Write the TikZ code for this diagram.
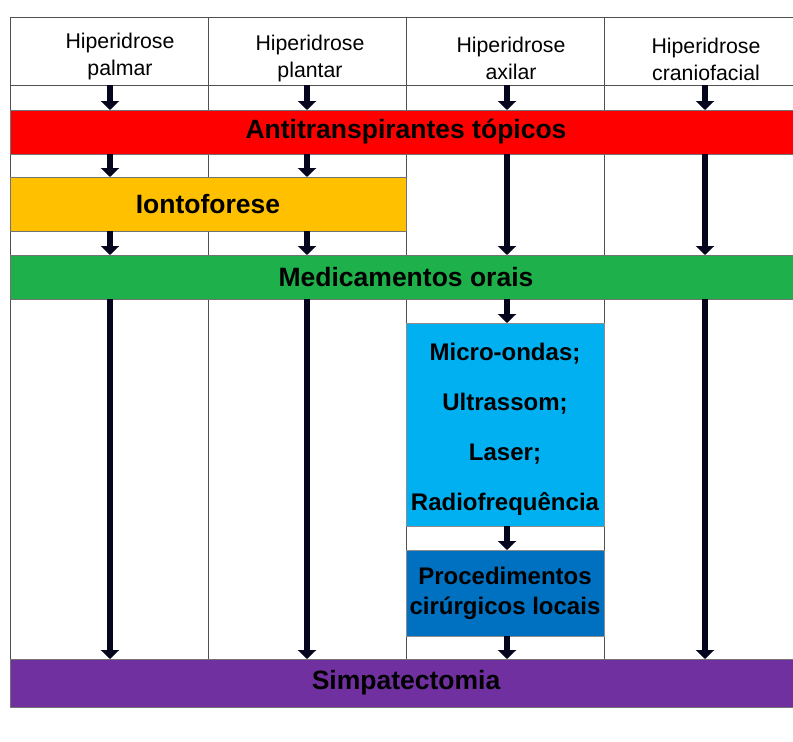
\documentclass[tikz,border=0pt]{standalone}
\usepackage{fontspec}
\setmainfont{Liberation Sans}
\usetikzlibrary{arrows.meta}
\definecolor{cred}{HTML}{FF0000}
\definecolor{corange}{HTML}{FFC000}
\definecolor{cgreen}{HTML}{1EB04A}
\definecolor{ccyan}{HTML}{00B0F0}
\definecolor{cblue}{HTML}{0070C0}
\definecolor{cpurple}{HTML}{7030A0}
\definecolor{cgrid}{HTML}{505050}
\definecolor{carrow}{HTML}{05051E}
\tikzset{
  gridline/.style={draw=cgrid, line width=1pt},
  hdr/.style={anchor=north, inner sep=0pt, align=center, font=\fontsize{21.3}{27}\selectfont},
  bar/.style={draw=black!55, line width=0.8pt, inner sep=0pt, outer sep=0pt, font=\bfseries\fontsize{26.5}{30}\selectfont},
  boxtext/.style={draw=black!45, line width=0.8pt, inner sep=0pt, outer sep=0pt, align=center, minimum width=198pt},
  arr/.style={draw=carrow, line width=6pt, -{Triangle[width=18pt,length=9pt]}}
}
\begin{document}
\begin{tikzpicture}[x=1pt, y=-1pt]
\clip (0,0) rectangle (793,742);
\fill[white] (0,0) rectangle (793,742);
% grid
\draw[gridline] (10,707) -- (10,17) -- (802,17);
\draw[gridline] (10,85) -- (802,85);
\foreach \gx in {208,406,604,802} \draw[gridline] (\gx,17) -- (\gx,707);
% headers
\node[hdr] (h1) at (120,33) {Hiperidrose\\palmar};
\node[hdr] (h2) at (310,35) {Hiperidrose\\plantar};
\node[hdr] (h3) at (511,37) {Hiperidrose\\axilar};
\node[hdr] (h4) at (706,38) {Hiperidrose\\craniofacial};
% arrow columns
\coordinate (c1) at (110,85);
\coordinate (c2) at (307,85);
\coordinate (c3) at (507,85);
\coordinate (c4) at (705,85);
% bars
\node[bar, fill=cred, minimum width=792pt, minimum height=44pt] (red) at (406,132) {Antitranspirantes tópicos};
\node[bar, fill=corange, minimum width=396pt, minimum height=54pt] (orange) at (208,204) {Iontoforese};
\node[bar, fill=cgreen, minimum width=792pt, minimum height=44pt] (green) at (406,277) {Medicamentos orais};
\node[boxtext, fill=ccyan, minimum height=203pt] (cyan) at (505,424.5) {};
\node[align=center, inner sep=0pt, font=\bfseries\fontsize{24}{50}\selectfont] (cyantext) at ([yshift=-5pt]cyan.center) {Micro-ondas;\\Ultrassom;\\Laser;\\Radiofrequência};
\node[boxtext, fill=cblue, minimum height=86pt, font=\bfseries\fontsize{24}{30}\selectfont] (blue) at (505,593) {Procedimentos\\cirúrgicos locais};
\node[bar, fill=cpurple, minimum width=792pt, minimum height=48pt] (purple) at (406,683) {Simpatectomia};
% arrows column 1 and 2
\foreach \c in {c1,c2} {
  \draw[arr] (\c) -- (\c |- red.north);
  \draw[arr] (\c |- red.south) -- (\c |- orange.north);
  \draw[arr] (\c |- orange.south) -- (\c |- green.north);
  \draw[arr] (\c |- green.south) -- (\c |- purple.north);
}
% column 3
\draw[arr] (c3) -- (c3 |- red.north);
\draw[arr] (c3 |- red.south) -- (c3 |- green.north);
\draw[arr] (c3 |- green.south) -- (c3 |- cyan.north);
\draw[arr] (c3 |- cyan.south) -- (c3 |- blue.north);
\draw[arr] (c3 |- blue.south) -- (c3 |- purple.north);
% column 4
\draw[arr] (c4) -- (c4 |- red.north);
\draw[arr] (c4 |- red.south) -- (c4 |- green.north);
\draw[arr] (c4 |- green.south) -- (c4 |- purple.north);
\end{tikzpicture}
\end{document}
